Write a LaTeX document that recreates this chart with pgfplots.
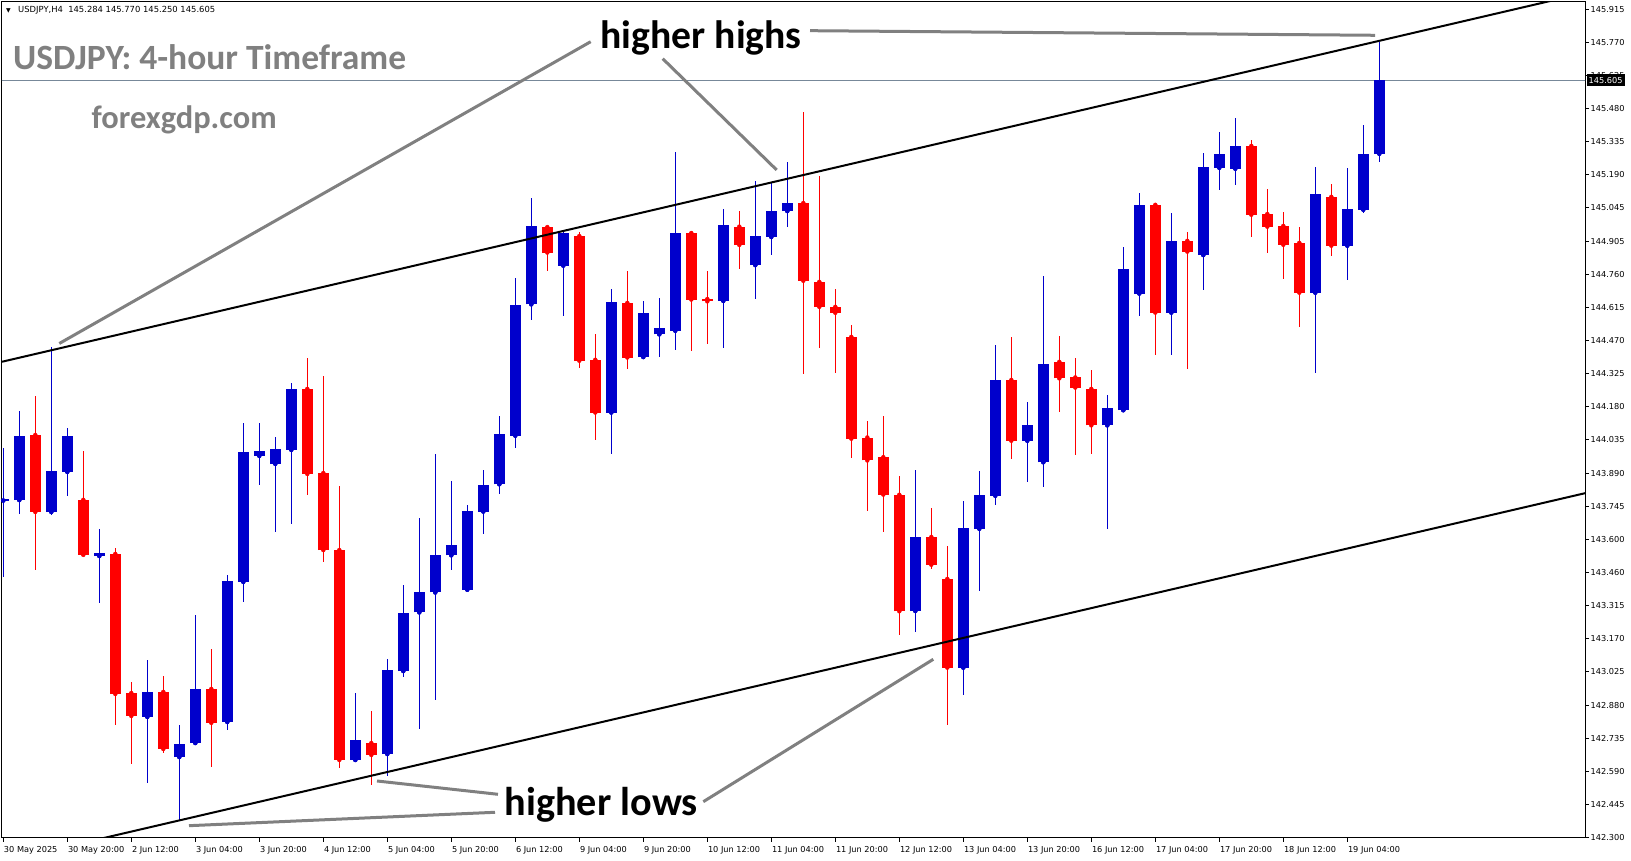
\documentclass[border=0pt]{standalone}
\usepackage{fontspec}
\setmainfont{DejaVu Sans}
\newfontfamily\annofont{Carlito}
\usepackage{graphicx}
\usepackage{pgfplots}
\usepackage{pgfplotstable}
\pgfplotsset{compat=1.18}
\definecolor{cblue}{RGB}{0,0,204}
\definecolor{cred}{RGB}{255,0,0}
\definecolor{annogray}{RGB}{128,128,128}
\definecolor{pricegray}{RGB}{119,136,153}

% bullish (blue) candles: index, open, high, low, close
\pgfplotstableread{
i O H L C
0 143.771 143.999 143.439 143.776
1 143.773 144.162 143.714 144.053
3 143.721 144.442 143.708 143.900
4 143.896 144.088 143.791 144.053
6 143.529 143.647 143.324 143.542
9 142.827 143.075 142.539 142.936
11 142.652 142.792 142.373 142.709
12 142.713 143.272 142.705 142.949
14 142.805 143.446 142.770 143.420
15 143.416 144.110 143.329 143.983
16 143.966 144.110 143.839 143.987
17 143.931 144.048 143.634 143.996
18 143.992 144.284 143.669 144.258
22 142.639 142.931 142.630 142.726
24 142.665 143.080 142.569 143.032
25 143.027 143.403 143.001 143.281
26 143.283 143.695 142.776 143.372
27 143.370 143.974 142.899 143.534
28 143.532 143.857 143.470 143.575
29 143.382 143.750 143.376 143.725
30 143.723 143.904 143.623 143.840
31 143.842 144.140 143.799 144.062
32 144.054 144.742 144.001 144.623
33 144.627 145.090 144.557 144.969
35 144.796 144.942 144.578 144.940
38 144.155 144.695 143.976 144.638
40 144.397 144.642 144.391 144.590
41 144.496 144.654 144.397 144.524
42 144.512 145.293 144.428 144.938
45 144.642 145.044 144.436 144.973
47 144.798 145.166 144.650 144.925
48 144.921 145.157 144.843 145.034
49 145.034 145.248 144.966 145.069
57 143.289 143.906 143.198 143.612
60 143.042 143.769 142.921 143.652
61 143.648 143.901 143.378 143.796
62 143.792 144.449 143.750 144.297
64 144.032 144.199 143.853 144.101
65 143.938 144.751 143.832 144.367
69 144.099 144.230 143.648 144.174
70 144.165 144.877 144.157 144.781
71 144.674 145.114 144.575 145.061
73 144.591 145.027 144.404 144.904
75 144.842 145.288 144.691 145.226
76 145.223 145.379 145.127 145.283
77 145.219 145.440 145.149 145.318
82 144.678 145.228 144.329 145.109
84 144.883 145.222 144.735 145.043
85 145.040 145.410 145.027 145.283
86 145.284 145.770 145.250 145.605
}\bull

% bearish (red) candles: index, open, high, low, close
\pgfplotstableread{
i O H L C
2 144.057 144.227 143.468 143.721
5 143.774 143.987 143.529 143.534
7 143.538 143.564 142.792 142.927
8 142.931 142.979 142.622 142.831
10 142.936 143.006 142.670 142.687
13 142.949 143.123 142.609 142.801
19 144.258 144.393 143.795 143.887
20 143.891 144.315 143.503 143.555
21 143.555 143.835 142.604 142.639
23 142.713 142.853 142.530 142.661
34 144.964 144.969 144.771 144.853
36 144.925 144.942 144.350 144.381
37 144.385 144.498 144.037 144.155
39 144.633 144.773 144.344 144.395
43 144.938 144.942 144.424 144.648
44 144.650 144.773 144.453 144.640
46 144.966 145.034 144.781 144.886
50 145.069 145.466 144.323 144.730
51 144.725 145.186 144.437 144.616
52 144.616 144.695 144.329 144.590
53 144.485 144.537 143.958 144.041
54 144.046 144.118 143.724 143.946
55 143.960 144.141 143.634 143.797
56 143.796 143.878 143.185 143.288
58 143.612 143.740 143.471 143.491
59 143.429 143.573 142.793 143.042
63 144.297 144.485 143.953 144.032
66 144.376 144.490 144.157 144.304
67 144.308 144.394 143.971 144.264
68 144.258 144.341 143.976 144.099
72 145.061 145.061 144.404 144.591
74 144.904 144.942 144.346 144.857
78 145.318 145.344 144.922 145.018
79 145.021 145.130 144.853 144.966
80 144.969 145.030 144.739 144.887
81 144.895 144.965 144.530 144.678
83 145.096 145.152 144.839 144.883
}\bear

\begin{document}
\begin{tikzpicture}
\useasboundingbox (0pt,0pt) rectangle (1631pt,861pt);
\begin{axis}[
  at={(2pt,23.3pt)}, anchor=south west,
  scale only axis, width=1583pt, height=836.2pt,
  xmin=-0.08125, xmax=98.856, ymin=142.3, ymax=145.9483,
  axis line style={line width=1pt, black},
  tick align=outside, major tick length=4pt,
  every tick/.style={black, line width=1pt},
  xtick pos=bottom, ytick pos=right, yticklabel pos=right,
  xtick={0,4,...,84},
  xticklabels={30 May 2025,30 May 20:00,2 Jun 12:00,3 Jun 04:00,3 Jun 20:00,4 Jun 12:00,5 Jun 04:00,5 Jun 20:00,6 Jun 12:00,9 Jun 04:00,9 Jun 20:00,10 Jun 12:00,11 Jun 04:00,11 Jun 20:00,12 Jun 12:00,13 Jun 04:00,13 Jun 20:00,16 Jun 12:00,17 Jun 04:00,17 Jun 20:00,18 Jun 12:00,19 Jun 04:00},
  ytick={142.300,142.4446,142.5892,142.7338,142.8784,143.0230,143.1676,143.3122,143.4568,143.6014,143.7460,143.8906,144.0352,144.1798,144.3244,144.4690,144.6136,144.7582,144.9028,145.0474,145.1920,145.3366,145.4812,145.6258,145.7704,145.9150},
  yticklabels={142.300,142.445,142.590,142.735,142.880,143.025,143.170,143.315,143.460,143.600,143.745,143.890,144.035,144.180,144.325,144.470,144.615,144.760,144.905,145.045,145.190,145.335,145.480,145.625,145.770,145.915},
  tick label style={font=\fontsize{8.2}{10}\selectfont, black},
  xticklabel style={anchor=north west, inner xsep=0.5pt, inner ysep=2pt, yshift=-2.5pt},
  yticklabel style={anchor=west, inner xsep=1.5pt},
  /pgf/number format/assume math mode=true,
]
% current price line
\addplot[pricegray, line width=1pt, forget plot] coordinates {(-1,145.605) (100,145.605)};
% wicks
\addplot[only marks, mark=none, color=cblue, forget plot,
  error bars/.cd, y dir=both, y explicit, error mark=none,
  error bar style={line width=1pt, cblue}]
  table[x=i, y=O, y error plus expr=\thisrow{H}-\thisrow{O}, y error minus expr=\thisrow{O}-\thisrow{L}] {\bull};
\addplot[only marks, mark=none, color=cred, forget plot,
  error bars/.cd, y dir=both, y explicit, error mark=none,
  error bar style={line width=1pt, cred}]
  table[x=i, y=O, y error plus expr=\thisrow{H}-\thisrow{O}, y error minus expr=\thisrow{O}-\thisrow{L}] {\bear};
% bodies
\addplot[only marks, mark=none, color=cblue, forget plot,
  error bars/.cd, y dir=plus, y explicit, error mark=none,
  error bar style={line width=11pt, cblue}]
  table[x=i, y=O, y error plus expr=\thisrow{C}-\thisrow{O}] {\bull};
\addplot[only marks, mark=none, color=cred, forget plot,
  error bars/.cd, y dir=plus, y explicit, error mark=none,
  error bar style={line width=11pt, cred}]
  table[x=i, y=C, y error plus expr=\thisrow{O}-\thisrow{C}] {\bear};
% channel lines
\addplot[black, line width=2pt, forget plot] coordinates {(-0.08125,144.3765) (98.856,145.9858)};
\addplot[black, line width=2pt, forget plot] coordinates {(5.5,142.286) (98.856,143.803)};
\end{axis}
% price box
\node[fill=black, text=white, font=\fontsize{8.2}{10}\selectfont, inner xsep=2pt, inner ysep=0pt, minimum height=12pt, anchor=west] at (1586.5pt,780.7pt) {145.605};
% header info
\node[anchor=west, inner sep=0pt, font=\fontsize{6}{7}\selectfont] at (6pt,850.3pt) {▼};
\node[anchor=west, inner sep=0pt, font=\fontsize{8.4}{10}\selectfont] at (18pt,850.3pt) {USDJPY,H4\ \ 145.284 145.770 145.250 145.605};
% titles
\node[anchor=base west, inner sep=0pt, text=annogray] at (13pt,791.5pt) {\resizebox{393pt}{!}{\annofont\bfseries\fontsize{35}{40}\selectfont USDJPY: 4-hour Timeframe}};
\node[anchor=base west, inner sep=0pt, text=annogray] at (91.5pt,732.3pt) {\resizebox{185pt}{!}{\annofont\bfseries\fontsize{35}{40}\selectfont forexgdp.com}};
% annotations
\node[anchor=base west, inner sep=0pt, text=black] at (600.5pt,812.7pt) {\resizebox{201pt}{!}{\annofont\bfseries\fontsize{39}{44}\selectfont higher highs}};
\node[anchor=base west, inner sep=0pt, text=black] at (504.5pt,45pt) {\resizebox{193pt}{!}{\annofont\bfseries\fontsize{39}{44}\selectfont higher lows}};
\draw[annogray, line width=3pt] (590.7pt,819.3pt) -- (59.3pt,517.5pt);
\draw[annogray, line width=3pt] (662.7pt,802.3pt) -- (776.7pt,691pt);
\draw[annogray, line width=3pt] (810pt,830.3pt) -- (1375pt,825.7pt);
\draw[annogray, line width=3pt] (377pt,80pt) -- (498pt,66.7pt);
\draw[annogray, line width=3pt] (189pt,35.3pt) -- (495pt,48.7pt);
\draw[annogray, line width=3pt] (703.3pt,59.3pt) -- (933.3pt,201.7pt);
\end{tikzpicture}
\end{document}
